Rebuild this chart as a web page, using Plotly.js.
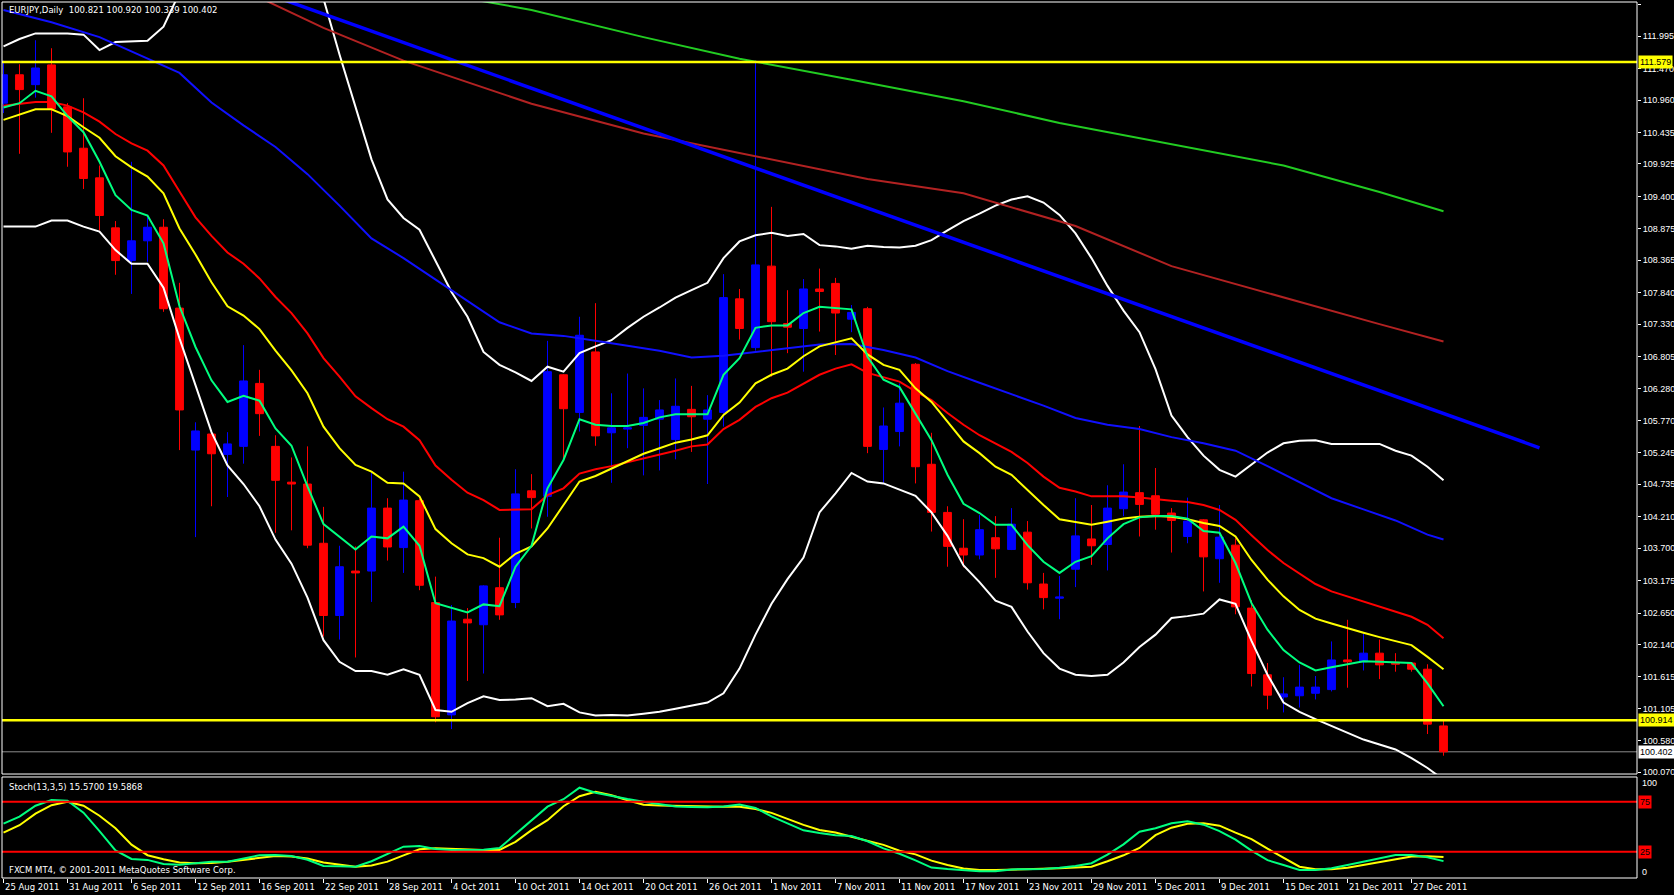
<!DOCTYPE html>
<html><head><meta charset="utf-8">
<script src="https://cdn.plot.ly/plotly-3.0.1.min.js"></script>
<style>html,body{margin:0;padding:0;background:#000;overflow:hidden;} #chart{width:1674px;height:895px;}</style>
</head><body><div id="chart"></div>
<script>
// ---------- DATA ----------
const symbol = 'EURJPY';
const timeframe = 'Daily';
const copyright = 'FXCM MT4, \u00a9 2001-2011 MetaQuotes Software Corp.';
const stochName = 'Stoch(13,3,5)';

// daily bars 25 Aug 2011 .. 29 Dec 2011 (index 0..90)
const open  = [110.91,111.37,111.21,111.53,110.85,110.18,109.70,108.89,108.36,108.68,108.90,107.59,105.29,105.55,105.22,105.35,106.37,105.35,104.77,104.74,
               103.78,102.61,103.33,103.33,104.35,103.71,104.47,102.82,101.00,102.55,102.46,103.06,102.82,104.63,104.54,106.51,105.90,106.88,105.57,105.63,
               105.69,105.79,105.46,105.95,105.79,105.90,107.74,106.95,108.27,107.34,107.26,107.90,107.99,107.41,107.58,105.30,105.59,106.68,105.06,104.28,
               103.70,103.59,103.87,103.68,103.96,103.12,102.89,103.36,103.85,103.76,104.34,104.60,104.55,104.27,103.89,104.16,103.53,103.75,102.73,101.65,
               101.29,101.31,101.35,101.41,101.89,101.86,102.00,101.85,101.84,101.74,100.821];
const high  = [111.60,111.54,111.93,111.80,110.91,110.99,109.90,109.00,109.96,109.06,109.03,108.00,105.74,105.60,105.58,106.99,106.59,105.53,105.17,105.35,
               104.37,103.74,103.73,104.92,104.51,104.94,104.50,103.24,102.78,102.73,103.10,103.87,104.98,104.90,107.06,106.52,107.45,107.67,106.21,106.53,
               106.29,106.10,106.45,106.33,106.18,108.14,107.90,111.60,109.23,107.88,108.06,108.23,108.08,107.64,107.61,105.98,106.37,106.70,105.57,104.38,
               104.17,104.24,104.22,104.35,104.14,103.30,103.25,104.51,104.40,104.72,105.06,105.68,105.00,104.35,104.52,104.17,104.40,103.86,102.86,101.84,
               101.61,101.81,101.63,102.19,102.54,102.32,102.22,102.00,101.85,101.82,100.920];
const low   = [110.75,110.09,111.00,110.43,109.88,109.52,108.85,108.13,107.82,108.34,107.53,105.29,103.88,104.38,104.53,105.07,105.52,103.95,103.99,103.70,
               102.27,102.22,101.93,102.83,103.50,103.30,103.02,100.88,100.77,101.55,101.67,102.54,102.73,104.02,104.21,105.13,105.59,105.36,104.76,105.32,
               104.88,104.96,105.14,105.26,104.74,105.67,107.08,106.90,106.48,106.86,106.56,107.21,106.83,107.20,105.24,104.76,105.35,104.75,103.97,103.40,
               103.39,103.52,103.22,103.67,103.03,102.71,102.55,103.07,103.43,103.34,104.22,103.89,104.00,103.63,103.78,103.00,103.14,102.63,101.46,101.09,
               101.04,101.12,101.25,101.38,101.44,101.72,101.58,101.70,101.70,100.69,100.339];
const close = [111.37,111.13,111.48,110.82,110.12,109.69,109.09,108.36,108.68,108.90,107.58,105.94,105.60,105.23,105.39,106.41,105.88,104.80,104.74,103.75,
               102.61,103.40,103.30,104.35,103.72,104.48,103.10,100.97,102.52,102.49,103.09,102.62,104.58,104.52,106.56,105.96,107.15,105.52,105.65,105.65,
               105.82,105.94,106.00,105.83,105.94,107.76,107.26,108.29,107.37,107.28,107.90,107.86,107.51,107.52,105.35,105.68,106.05,105.02,104.28,103.73,
               103.59,104.00,103.69,104.09,103.14,102.90,102.91,103.90,103.74,104.35,104.61,104.41,104.25,104.15,104.14,103.56,103.88,102.75,101.67,101.32,
               101.34,101.45,101.45,101.89,101.86,102.00,101.81,101.82,101.74,100.85,100.402];

// moving averages (one value per bar)
const maFast = [110.84,110.91,111.11,111.02,110.70,110.44,109.96,109.42,109.18,109.09,108.64,107.62,106.96,106.42,106.07,106.17,106.09,105.64,105.36,104.70,
                104.09,103.89,103.68,103.89,103.86,104.05,103.74,102.81,102.73,102.66,102.79,102.76,103.40,103.74,104.67,105.13,105.79,105.70,105.68,105.68,
                105.73,105.82,105.87,105.87,105.87,106.51,106.78,107.27,107.31,107.31,107.51,107.61,107.59,107.57,106.80,106.43,106.31,105.89,105.45,104.89,
                104.42,104.27,104.08,104.08,103.75,103.48,103.30,103.48,103.57,103.86,104.09,104.20,104.22,104.22,104.18,103.98,103.95,103.46,102.81,102.38,
                102.05,101.85,101.72,101.77,101.82,101.87,101.86,101.85,101.84,101.51,101.14];
const maYellow = [110.64,110.73,110.81,110.81,110.70,110.52,110.35,110.05,109.87,109.72,109.45,108.88,108.46,108.01,107.62,107.47,107.25,106.90,106.58,106.21,
                  105.67,105.32,105.05,104.94,104.76,104.75,104.54,104.01,103.78,103.60,103.54,103.40,103.61,103.73,104.02,104.40,104.78,104.87,104.99,105.10,
                  105.23,105.32,105.41,105.46,105.53,105.86,106.06,106.37,106.51,106.61,106.81,106.97,107.03,107.10,106.84,106.67,106.59,106.29,106.07,105.75,
                  105.43,105.24,105.02,104.89,104.64,104.40,104.17,104.13,104.08,104.13,104.18,104.21,104.22,104.21,104.17,104.11,104.06,103.89,103.51,103.19,
                  102.92,102.70,102.56,102.48,102.40,102.33,102.26,102.20,102.13,101.94,101.74];
const maRed = [110.87,110.90,110.93,110.93,110.87,110.76,110.61,110.41,110.26,110.14,109.90,109.48,109.06,108.76,108.49,108.31,108.07,107.77,107.51,107.18,
               106.78,106.48,106.16,105.97,105.79,105.67,105.45,105.04,104.81,104.60,104.48,104.32,104.32,104.33,104.56,104.67,104.91,104.98,105.03,105.09,
               105.16,105.21,105.28,105.35,105.38,105.63,105.78,105.99,106.13,106.22,106.37,106.51,106.61,106.68,106.54,106.47,106.40,106.24,106.10,105.89,
               105.70,105.53,105.40,105.26,105.08,104.86,104.68,104.62,104.54,104.54,104.54,104.52,104.49,104.47,104.45,104.40,104.32,104.16,103.91,103.67,
               103.46,103.29,103.12,103.00,102.92,102.83,102.75,102.67,102.59,102.46,102.24];
const bbUpper = [111.83,111.95,112.04,112.04,112.04,112.02,111.77,111.90,111.91,111.92,112.15,112.70,113.20,113.50,113.60,113.60,113.50,113.40,113.20,112.95,
                 112.60,111.70,110.85,110.00,109.35,109.05,108.86,108.35,107.85,107.45,106.88,106.67,106.55,106.41,106.64,106.56,106.86,106.97,107.07,107.27,
                 107.45,107.60,107.76,107.88,108.00,108.40,108.67,108.77,108.81,108.76,108.79,108.61,108.59,108.55,108.60,108.58,108.57,108.60,108.69,108.85,
                 109.00,109.12,109.25,109.35,109.40,109.30,109.10,108.80,108.40,107.95,107.55,107.20,106.60,105.85,105.50,105.20,104.97,104.86,105.05,105.25,
                 105.40,105.44,105.45,105.39,105.39,105.39,105.39,105.28,105.20,105.02,104.80];
const bbLower = [108.91,108.91,108.91,109.01,109.01,108.91,108.83,108.53,108.31,108.31,107.92,107.10,106.35,105.58,105.04,104.74,104.38,103.84,103.45,102.90,
                 102.21,101.86,101.71,101.71,101.65,101.74,101.65,101.08,101.05,101.19,101.30,101.24,101.25,101.27,101.14,101.18,101.04,100.99,101.00,100.99,
                 101.02,101.05,101.10,101.15,101.20,101.35,101.75,102.30,102.80,103.20,103.55,104.28,104.59,104.92,104.78,104.75,104.65,104.55,104.28,103.90,
                 103.42,103.15,102.85,102.75,102.35,102.00,101.75,101.65,101.63,101.65,101.85,102.10,102.30,102.57,102.60,102.64,102.87,102.80,102.20,101.65,
                 101.20,101.05,100.93,100.82,100.70,100.60,100.52,100.44,100.30,100.14,99.95];

// slower moving averages, read at selected bars
const maBlueBars = [0,3,6,9,11,13,15,17,19,21,23,25,27,29,31,33,35,37,39,41,43,45,47,49,51,53,55,57,59,61,63,65,67,69,71,73,75,77,79,81,83,85,87,89,90];
const maBlueVals = [112.42,112.22,111.98,111.64,111.40,110.92,110.55,110.20,109.76,109.25,108.72,108.40,108.05,107.70,107.36,107.18,107.14,107.06,106.98,106.90,
                    106.79,106.82,106.88,106.94,107.00,107.01,106.91,106.79,106.57,106.38,106.20,106.01,105.81,105.70,105.63,105.50,105.40,105.28,105.03,104.77,
                    104.51,104.33,104.15,103.92,103.84];
const maBrownBars = [16,20,25,33,40,47,54,60,67,73,80,86,90];
const maBrownVals = [112.62,112.13,111.60,110.90,110.42,110.05,109.68,109.45,108.92,108.27,107.76,107.33,107.05];
const maLongBars = [27,33,40,46,53,60,66,73,80,86,90];
const maLongVals = [112.70,112.42,111.98,111.63,111.29,110.94,110.59,110.25,109.90,109.47,109.16];

// drawn objects
const trendBars = [16, 96];
const trendVals = [112.725, 105.327];
const hLevels = [111.579, 100.914];

// stochastic (13,3,5)
const stochK = [53,60,71,76.7,76,64,45.5,26.3,17.7,16.8,12.8,12,13.4,15,15,18,21.5,21.7,20.7,17,
                10.7,10.4,10,15.5,23,30,30.7,27.6,26.7,26.7,26.9,28.7,42.5,56,70,77.5,89,84,80.6,77.7,
                75,72.5,70.1,69.8,69.5,70.3,72.2,68.8,60.4,53.3,46.4,43.7,41.4,40.7,35.4,28.3,22.9,16.4,9.1,7.6,
                6.7,5.5,5.5,7.3,7.4,7.7,9,10.7,13.5,22,32.3,45,48.5,53.5,55.5,52,45.5,37,26,16.5,
                11.7,6.7,6.7,8.5,11.7,15,18,21.7,21.7,19.5,15.57];
const stochD = [44,51.5,63,71.5,75,71,61,48.5,32,21.5,17.5,14.3,13.5,13.8,15,17,19.2,20.6,20.3,18.1,
                14.3,12.1,10,11.2,15.1,21.3,27.5,28.5,27.8,27.3,26.7,26.7,34.8,46.5,56.5,70.5,80.5,85,81.4,76.4,
                71.9,71.3,70.8,70.5,70.2,70,70,67.6,63.8,57.8,51.8,46.7,44.1,40,35.6,31.8,25.9,22.3,16.1,11.7,
                8.3,6.7,6.7,7,7.3,7.5,8.4,9.2,10,15.4,21.4,28.7,41.5,49,53,53.5,51,44,37.5,28,
                19,10,7.5,7.4,9,12,14.5,18,20.3,20.5,19.5868];
const stochLevels = [75, 25];

// axes
const priceTicks = [112.505,111.995,111.470,110.960,110.435,109.925,109.400,108.875,108.365,107.840,107.330,106.805,106.280,
                    105.770,105.245,104.735,104.210,103.700,103.175,102.650,102.140,101.615,101.105,100.580,100.070];
const dateTickBars = [0,4,8,12,16,20,24,28,32,36,40,44,48,52,56,60,64,68,72,76,80,84,88];
const dateTickLabels = ['25 Aug 2011','31 Aug 2011','6 Sep 2011','12 Sep 2011','16 Sep 2011','22 Sep 2011','28 Sep 2011','4 Oct 2011',
                        '10 Oct 2011','14 Oct 2011','20 Oct 2011','26 Oct 2011','1 Nov 2011','7 Nov 2011','11 Nov 2011','17 Nov 2011',
                        '23 Nov 2011','29 Nov 2011','5 Dec 2011','9 Dec 2011','15 Dec 2011','21 Dec 2011','27 Dec 2011'];

// ---------- CHART ----------
const FONT = 'Liberation Sans, Arial, sans-serif';
const TFONT = 'DejaVu Sans, Verdana, sans-serif';
const barIdx = close.map((_, i) => i);
const last = close.length - 1;
const mainDomain = [0.1187, 1];
const stochDomain = [0, 0.1153];

function line(x, y, color, width, yaxis) {
  return {type: 'scatter', mode: 'lines', x: x, y: y, yaxis: yaxis || 'y', xaxis: 'x',
          line: {color: color, width: width}, hoverinfo: 'skip'};
}

const traces = [
  {type: 'candlestick', x: barIdx, open: open, high: high, low: low, close: close, xaxis: 'x', yaxis: 'y',
   increasing: {line: {color: '#0000ff', width: 1}, fillcolor: '#0000ff'},
   decreasing: {line: {color: '#ff0000', width: 1}, fillcolor: '#ff0000'},
   whiskerwidth: 0, hoverinfo: 'skip'},
  line(barIdx, bbUpper, '#ffffff', 2),
  line(barIdx, bbLower, '#ffffff', 2),
  line(maLongBars, maLongVals, '#22cc22', 2),
  line(maBrownBars, maBrownVals, '#b22222', 2),
  line(maBlueBars, maBlueVals, '#1010ff', 2),
  line(barIdx, maRed, '#ff0000', 2),
  line(barIdx, maYellow, '#ffff00', 2),
  line(barIdx, maFast, '#00ff7f', 2),
  line(trendBars, trendVals, '#0000ff', 3.5),
  line(barIdx, stochD, '#ffff00', 2, 'y2'),
  line(barIdx, stochK, '#00ff7f', 2, 'y2')
];

const shapes = [];
hLevels.forEach(v => shapes.push({type: 'line', xref: 'paper', x0: 0, x1: 1, yref: 'y', y0: v, y1: v,
  line: {color: '#ffff00', width: 2.5}}));
shapes.push({type: 'line', xref: 'paper', x0: 0, x1: 1, yref: 'y', y0: close[last], y1: close[last],
  line: {color: '#8c8c8c', width: 1}, layer: 'below'});
stochLevels.forEach(v => shapes.push({type: 'line', xref: 'paper', x0: 0, x1: 1, yref: 'y2', y0: v, y1: v,
  line: {color: '#ff0000', width: 2}}));
shapes.push({type: 'rect', xref: 'paper', yref: 'paper', x0: 0, x1: 1, y0: mainDomain[0], y1: mainDomain[1],
  line: {color: '#ffffff', width: 1}});
shapes.push({type: 'rect', xref: 'paper', yref: 'paper', x0: 0, x1: 1, y0: stochDomain[0], y1: stochDomain[1],
  line: {color: '#ffffff', width: 1}});

const txt = {family: TFONT, size: 8.5, color: '#ffffff'};
const flagFont = {family: FONT, size: 9, color: '#000000'};
const annotations = [];
annotations.push({xref: 'paper', yref: 'paper', x: 0.003, y: 0.9905, xanchor: 'left', yanchor: 'middle', showarrow: false,
  text: symbol + ',' + timeframe + '&nbsp;&nbsp;' + [open[last], high[last], low[last], close[last]].map(v => v.toFixed(3)).join(' '),
  font: txt});
annotations.push({xref: 'paper', yref: 'paper', x: 0.003, y: 0.1042, xanchor: 'left', yanchor: 'middle', showarrow: false,
  text: stochName + ' ' + stochK[last].toFixed(4) + ' ' + stochD[last].toFixed(4), font: txt});
annotations.push({xref: 'paper', yref: 'paper', x: 0.003, y: 0.0095, xanchor: 'left', yanchor: 'middle', showarrow: false,
  text: copyright, font: txt});
dateTickBars.forEach((b, i) => annotations.push({xref: 'x', yref: 'paper', x: b, y: -0.0105, xanchor: 'left', yanchor: 'middle',
  xshift: -1, showarrow: false, text: dateTickLabels[i], font: txt}));
hLevels.forEach(v => annotations.push({xref: 'paper', yref: 'y', x: 1.0008, y: v, xanchor: 'left', yanchor: 'middle',
  showarrow: false, text: v.toFixed(3), bgcolor: '#ffff00', borderpad: 1, font: flagFont}));
annotations.push({xref: 'paper', yref: 'y', x: 1.0008, y: close[last], xanchor: 'left', yanchor: 'middle',
  showarrow: false, text: close[last].toFixed(3), bgcolor: '#ffffff', borderpad: 1, font: flagFont});
stochLevels.forEach(v => annotations.push({xref: 'paper', yref: 'y2', x: 1.0008, y: v, xanchor: 'left', yanchor: 'middle',
  showarrow: false, text: String(v), bgcolor: '#ff0000', borderpad: 1, font: flagFont}));
annotations.push({xref: 'paper', yref: 'paper', x: 1.002, y: 0.108, xanchor: 'left', yanchor: 'middle', showarrow: false, text: '100',
  font: {family: FONT, size: 9, color: '#ffffff'}});
annotations.push({xref: 'paper', yref: 'paper', x: 1.002, y: 0.0072, xanchor: 'left', yanchor: 'middle', showarrow: false, text: '0',
  font: {family: FONT, size: 9, color: '#ffffff'}});

const layout = {
  width: 1674, height: 895,
  paper_bgcolor: '#000000', plot_bgcolor: '#000000',
  margin: {l: 2, r: 37, t: 2, b: 17},
  showlegend: false, hovermode: false, dragmode: false,
  xaxis: {range: [-0.09375, 102.094], anchor: 'y2', showgrid: false, zeroline: false, showline: false,
          tickvals: dateTickBars, ticks: 'outside', ticklen: 4, tickcolor: '#ffffff', tickwidth: 1,
          showticklabels: false, rangeslider: {visible: false}, fixedrange: true},
  yaxis: {domain: mainDomain, range: [100.042, 112.549], side: 'right', showgrid: false, zeroline: false, showline: false,
          tickvals: priceTicks, ticktext: priceTicks.map(v => v.toFixed(3)), ticks: 'outside', ticklen: 3,
          tickcolor: '#ffffff', tickfont: {family: FONT, size: 9, color: '#ffffff'}, fixedrange: true},
  yaxis2: {domain: stochDomain, range: [-1.3, 99.7], side: 'right', showgrid: false, zeroline: false, showline: false,
           showticklabels: false, ticks: '', fixedrange: true},
  shapes: shapes,
  annotations: annotations
};

Plotly.newPlot('chart', traces, layout, {staticPlot: true, displayModeBar: false});
</script>
</body></html>
